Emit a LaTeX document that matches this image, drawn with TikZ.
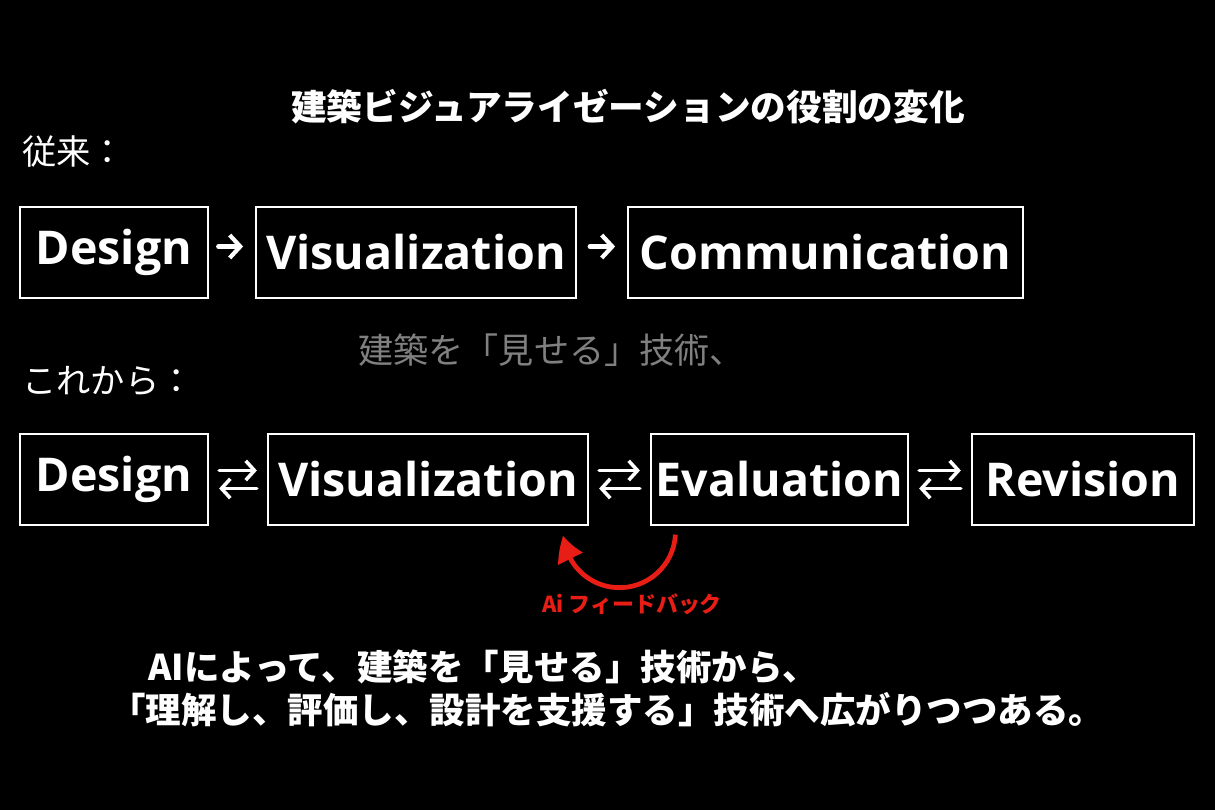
\documentclass[tikz,border=0pt]{standalone}
\usepackage{fontspec}
\setmainfont{Open Sans}
\newfontfamily\jp{Noto Sans CJK JP}
\usetikzlibrary{arrows.meta,bending}
\definecolor{fbred}{RGB}{232,30,22}
\definecolor{dimgray}{RGB}{128,128,128}
\begin{document}
\begin{tikzpicture}[x=0.02cm,y=-0.02cm,
		stage/.style={draw=white,line width=0.7pt,minimum height=1.82cm,inner sep=0pt,text=white,font=\fontsize{26.5}{30}\selectfont\bfseries},
		jtext/.style={text=white,inner sep=0pt,font=\jp\fontsize{19.5}{22}\selectfont},
		onearrow/.style={white,line width=2.4pt,line cap=round,-{Straight Barb[length=6pt,width=13pt]}},
		twoarrow/.style={white,line width=2pt,line cap=round,-{Straight Barb[length=5pt,width=11pt]}},
		feedback/.style={fbred,line width=2.7pt,-{Triangle[length=14pt,width=15pt,bend]}}]
		\fill[black] (0,0) rectangle (1215,810);
		% title and headings
		\node[jtext,font=\jp\bfseries\fontsize{20.3}{24}\selectfont] (title) at (628,107) {建築ビジュアライゼーションの役割の変化};
		\node[jtext,anchor=west] (past) at (22,152) {従来：};
		\node[jtext,anchor=west] (future) at (22,381) {これから：};
		% old flow
		\node[stage,minimum width=3.76cm] (d1) at (114,252.5) {Design};
		\node[stage,minimum width=6.4cm] (v1) at (416,252.5) {Visualization};
		\node[stage,minimum width=7.9cm] (c1) at (825.5,252.5) {Communication};
		\draw[onearrow,shorten <=5.5pt,shorten >=7pt] ([shift={(0,-6)}]d1.east) -- ([shift={(0,-6)}]v1.west);
		\draw[onearrow,shorten <=7.5pt,shorten >=7pt] ([shift={(0,-6)}]v1.east) -- ([shift={(0,-6)}]c1.west);
		\node[jtext,font=\jp\fontsize{20}{24}\selectfont,text=dimgray,anchor=west] (show) at (358,350) {建築を「見せる」技術、};
		% new flow
		\node[stage,minimum width=3.76cm] (d2) at (114,479.5) {Design};
		\node[stage,minimum width=6.4cm] (v2) at (428,479.5) {Visualization};
		\node[stage,minimum width=5.14cm] (e2) at (779.5,479.5) {Evaluation};
		\node[stage,minimum width=4.44cm] (r2) at (1083,479.5) {Revision};
		\foreach \from/\to in {d2/v2,v2/e2,e2/r2} {
			\draw[twoarrow,shorten <=6pt,shorten >=6pt] ([shift={(0,-9)}]\from.east) -- ([shift={(0,-9)}]\to.west);
			\draw[twoarrow,shorten <=6pt,shorten >=6pt] ([shift={(0,9)}]\to.west) -- ([shift={(0,9)}]\from.east);
		}
		% AI feedback loop
		\draw[feedback] ([shift={(25,9)}]e2.south west) arc[start angle=3,end angle=176,radius=56];
		\node[text=fbred,font=\jp\bfseries\fontsize{12.5}{15}\selectfont] (fb) at (632,604) {Ai フィードバック};
		% summary
		\node[jtext,font=\jp\bfseries\fontsize{20.2}{24}\selectfont,anchor=west] (sum1) at (148,667) {AIによって、建築を「見せる」技術から、};
		\node[jtext,font=\jp\bfseries\fontsize{20.2}{24}\selectfont,anchor=west] (sum2) at (110,710) {「理解し、評価し、設計を支援する」技術へ広がりつつある。};
	\end{tikzpicture}
\end{document}
